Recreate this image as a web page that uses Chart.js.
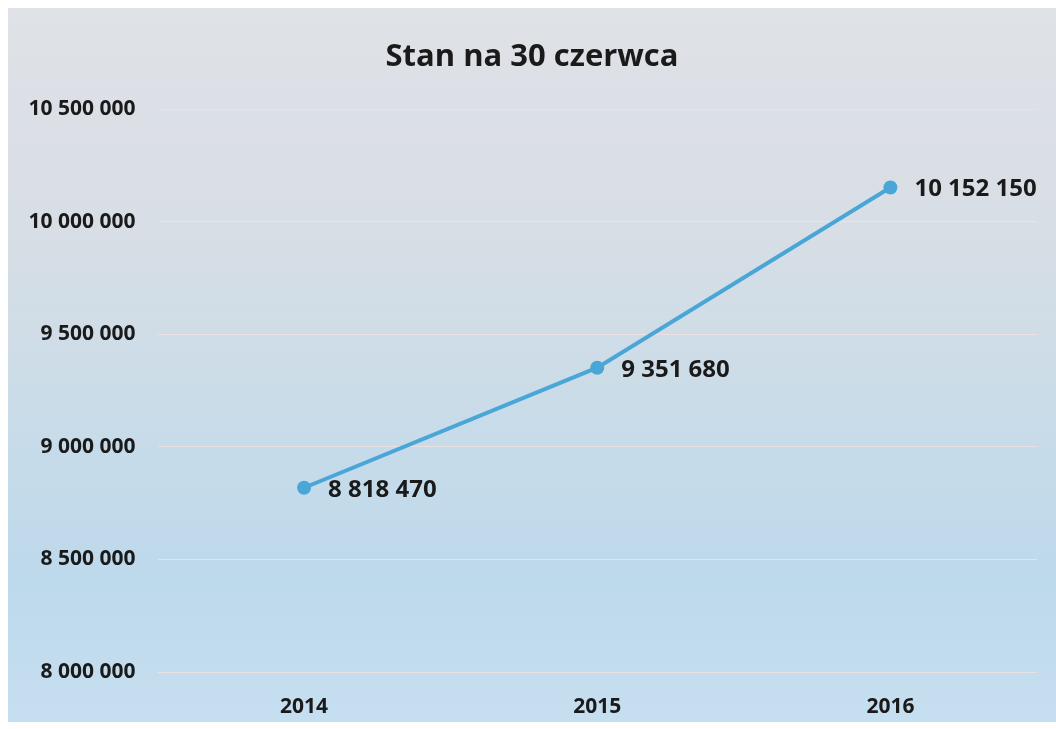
<!DOCTYPE html>
<html>
<head>
<meta charset="utf-8">
<script src="https://cdn.jsdelivr.net/npm/chart.js@4"></script>
<style>
  html, body { margin: 0; padding: 0; background: #fff; }
  #wrap { width: 1056px; height: 729px; }
</style>
</head>
<body>
<div id="wrap"><canvas id="stanChart" width="1056" height="729"></canvas></div>
<script>
// Data for the chart
const years = ['2014', '2015', '2016'];
const population = [8818470, 9351680, 10152150];
const yMin = 8000000;
const yMax = 10500000;
const yStep = 500000;

// 10152150 -> "10 152 150"
function spaced(v) {
    return Math.round(v).toString().replace(/\B(?=(\d{3})+(?!\d))/g, ' ');
}

// scanned-paper background
const bgPlugin = {
    id: 'bg',
    beforeDraw(chart) {
        const c = chart.ctx;
        c.save();
        c.fillStyle = '#ffffff';
        c.fillRect(0, 0, chart.width, chart.height);
        const g = c.createLinearGradient(0, 8, 0, 722);
        g.addColorStop(0, '#dfe2e7');
        g.addColorStop(0.3, '#d8dee5');
        g.addColorStop(0.55, '#cadce8');
        g.addColorStop(0.8, '#bdd9ec');
        g.addColorStop(1, '#c6dff0');
        c.fillStyle = g;
        c.fillRect(8, 8, chart.width - 8, 714);
        c.restore();
    }
};

// value labels to the right of each point
const valueLabels = {
    id: 'valueLabels',
    afterDatasetsDraw(chart) {
        const c = chart.ctx;
        const meta = chart.getDatasetMeta(0);
        c.save();
        c.font = 'bold 24px "Open Sans"';
        c.fillStyle = '#1a1a1a';
        c.textAlign = 'left';
        c.textBaseline = 'middle';
        meta.data.forEach((pt, i) => {
            c.fillText(spaced(population[i]), pt.x + 24, pt.y + 2);
        });
        c.restore();
    }
};

const ctx = document.getElementById('stanChart').getContext('2d');
const lineChart = new Chart(ctx, {
    type: 'line',
    data: {
        labels: years,
        datasets: [{
            data: population,
            borderColor: '#4aa6d7',
            backgroundColor: '#4aa6d7',
            borderWidth: 4,
            pointRadius: 7,
            pointBackgroundColor: '#4aa6d7',
            pointBorderWidth: 0,
            tension: 0,
            fill: false
        }]
    },
    options: {
        responsive: false,
        animation: false,
        layout: { padding: { left: 27, right: 19, top: 0, bottom: 12 } },
        plugins: {
            legend: { display: false },
            tooltip: { enabled: false },
            title: {
                display: true,
                text: 'Stan na 30 czerwca',
                color: '#1a1a1a',
                font: { family: 'Open Sans', size: 31, weight: 'bold' },
                padding: { top: 39, bottom: 33 }
            }
        },
        scales: {
            x: {
                offset: true,
                grid: { display: false, drawTicks: false },
                border: { display: false },
                ticks: {
                    color: '#1a1a1a',
                    padding: 22,
                    font: { family: 'Open Sans', size: 21, weight: 'bold' }
                },
                afterFit: s => { s.height = 45; }
            },
            y: {
                min: yMin,
                max: yMax,
                grid: { color: 'rgba(245, 225, 222, 0.75)', lineWidth: 1, drawTicks: false },
                border: { display: false },
                ticks: {
                    stepSize: yStep,
                    color: '#1a1a1a',
                    padding: 22,
                    font: { family: 'Open Sans', size: 21, weight: 'bold' },
                    callback: v => spaced(v)
                },
                afterFit: s => { s.width = 130.5; }
            }
        }
    },
    plugins: [bgPlugin, valueLabels]
});
</script>
</body>
</html>
